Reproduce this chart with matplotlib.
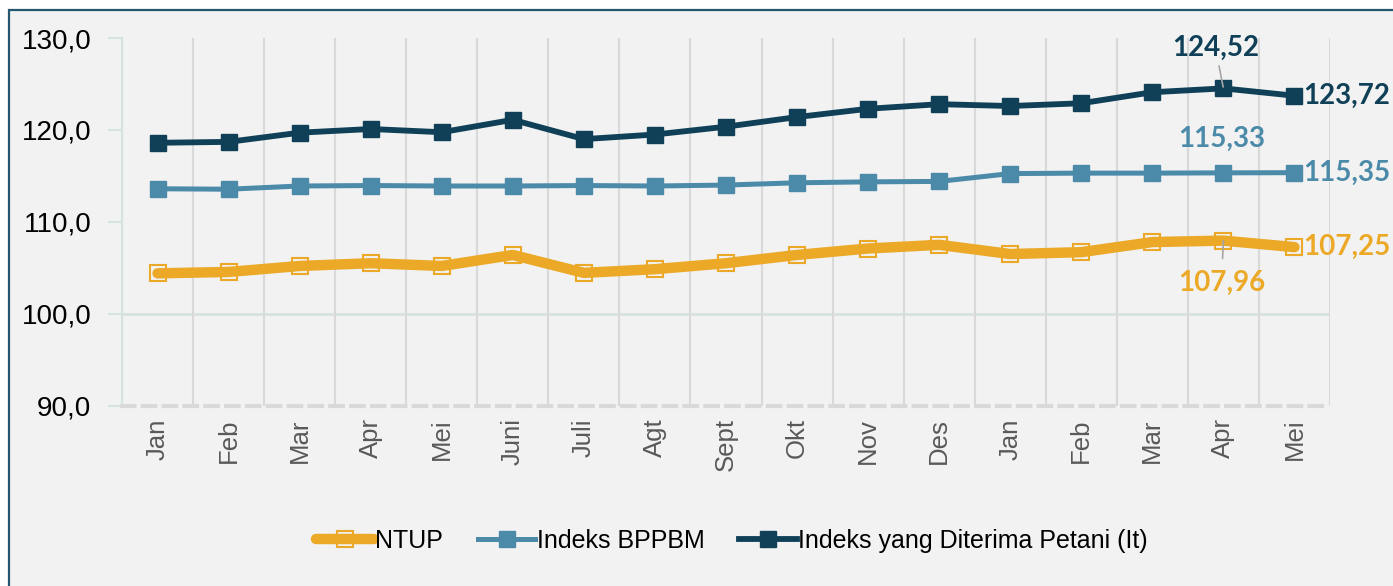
import matplotlib
matplotlib.use("Agg")
import matplotlib.pyplot as plt
from matplotlib.patches import Rectangle

# Data
months = ["Jan", "Feb", "Mar", "Apr", "Mei", "Juni", "Juli", "Agt", "Sept",
          "Okt", "Nov", "Des", "Jan", "Feb", "Mar", "Apr", "Mei"]
ntup = [104.40, 104.55, 105.20, 105.50, 105.20, 106.40, 104.45, 104.85, 105.50,
        106.40, 107.10, 107.50, 106.50, 106.70, 107.80, 107.96, 107.25]
bppbm = [113.60, 113.55, 113.90, 113.95, 113.90, 113.90, 113.95, 113.90, 114.00,
         114.25, 114.35, 114.40, 115.25, 115.30, 115.30, 115.33, 115.35]
it_index = [118.60, 118.70, 119.70, 120.10, 119.75, 121.10, 119.00, 119.50, 120.35,
            121.40, 122.30, 122.80, 122.60, 122.90, 124.10, 124.52, 123.72]
y_ticks = [90, 100, 110, 120, 130]

C_NTUP = "#eba927"
C_BPPBM = "#4b8aa9"
C_IT = "#0f4058"
SANS = ["Liberation Sans", "DejaVu Sans"]
BOLD = ["Lato", "DejaVu Sans"]

fig = plt.figure(figsize=(13.93, 5.86), dpi=100)
fig.patch.set_facecolor("white")
fig.patches.append(Rectangle((9 / 1393, -0.05), 1.1, 1 - 10 / 586 + 0.05,
                             transform=fig.transFigure, facecolor="#f2f2f2",
                             edgecolor="#255870", linewidth=1.6, zorder=-5))

ax = fig.add_axes([122 / 1393, 1 - 405.7 / 586, 1208 / 1393, 367.7 / 586])
ax.set_facecolor("none")

x = list(range(len(months)))
ax.plot(x, ntup, color=C_NTUP, lw=7.5, solid_capstyle="round", marker="s",
        ms=12, mfc="none", mec=C_NTUP, mew=1.5, label="NTUP", zorder=3)
ax.plot(x, bppbm, color=C_BPPBM, lw=3.6, marker="s", ms=12,
        label="Indeks BPPBM", zorder=4)
ax.plot(x, it_index, color=C_IT, lw=4.2, marker="s", ms=12,
        label="Indeks yang Diterima Petani (It)", zorder=5)

ax.set_xlim(-0.5, len(months) - 0.5)
ax.set_ylim(90, 130)
ax.set_yticks(y_ticks)
ax.set_yticklabels([f"{v:.1f}".replace(".", ",") for v in y_ticks],
                   family=SANS, fontsize=20)
ax.set_xticks(x)
ax.set_xticklabels(months, rotation=90, fontsize=18.5, color="#595959",
                   family=SANS)
ax.set_xticks([i - 0.5 for i in range(len(months) + 1)], minor=True)
ax.tick_params(axis="x", which="both", length=0, pad=9)
ax.tick_params(axis="y", length=10, width=1.5, color="#d6e3df", pad=12)
ax.grid(axis="x", which="minor", color="#d9d9d9", lw=1.5, zorder=1)
ax.axhline(100, color="#d6e3df", lw=2, zorder=1)

for s in ["top", "right"]:
    ax.spines[s].set_visible(False)
ax.spines["left"].set_color("#d6e3df")
ax.spines["left"].set_linewidth(1.5)
ax.spines["bottom"].set_color("#d9d9d9")
ax.spines["bottom"].set_linewidth(3)
ax.spines["bottom"].set_linestyle((0, (3, 2)))

# value labels for the last two months
last, prev = len(months) - 1, len(months) - 2
lab = lambda v: f"{v:.2f}".replace(".", ",")
kw = dict(textcoords="offset pixels", fontsize=20, fontweight="bold",
          family=BOLD, zorder=6)
ax.annotate(lab(it_index[prev]), (prev, it_index[prev]), xytext=(-8, 41),
            ha="center", va="center", color=C_IT,
            arrowprops=dict(arrowstyle="-", color="#a6a6a6", lw=1.2,
                            shrinkA=2, shrinkB=1), **kw)
ax.annotate(lab(bppbm[prev]), (prev, bppbm[prev]), xytext=(-2, 34),
            ha="center", va="center", color=C_BPPBM, **kw)
ax.annotate(lab(ntup[prev]), (prev, ntup[prev]), xytext=(-2, -42),
            ha="center", va="center", color=C_NTUP,
            arrowprops=dict(arrowstyle="-", color="#a6a6a6", lw=1.2,
                            shrinkA=6, shrinkB=0), **kw)
for series, c in [(it_index, C_IT), (bppbm, C_BPPBM), (ntup, C_NTUP)]:
    ax.annotate(lab(series[last]), (last, series[last]), xytext=(9, 0),
                ha="left", va="center", color=c, **kw)

fig.legend(loc="center", bbox_to_anchor=(732 / 1393, 1 - 541 / 586), ncol=3,
           frameon=False, prop={"family": SANS, "size": 18},
           handlelength=2.3, handletextpad=0.05, columnspacing=1.4,
           markerscale=1.0)

fig.savefig("out.png", dpi=100, facecolor=fig.get_facecolor())
